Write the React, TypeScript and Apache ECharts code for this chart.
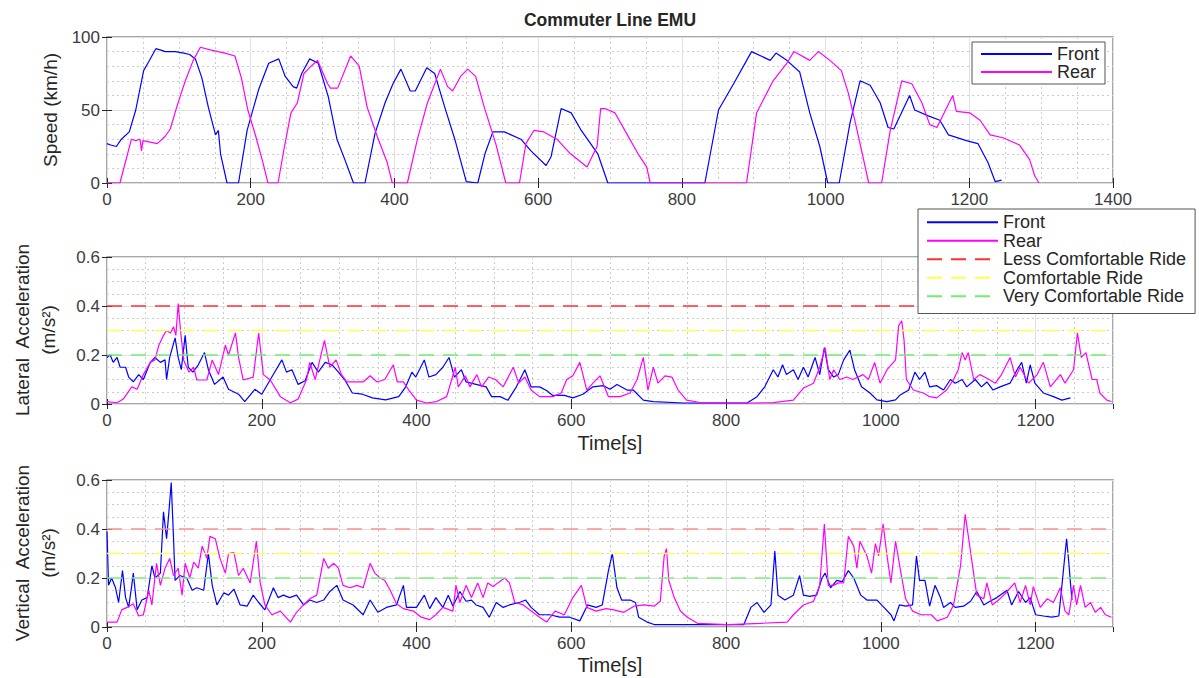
import React, { useEffect, useRef } from 'react';
import * as echarts from 'echarts';

// ---- data: [time (s), value] ----
const speedFront: [number, number][] = [
  [0,27],[5,26],[13,25],[20,30],[31,35],[40,50],[51,77],[58,83],[68,92],[75,91],[81,90],[95,90],[107,89],[115,88],[123,85],[132,72],[141,52],[151,33],[155,36],[158,20],[167,0],[183,0],[195,36],[211,64],[225,82],[239,85],[248,73],[259,66],[264,65],[271,75],[282,85],[294,82],[308,59],[320,30],[331,16],[343,0],[359,0],[373,34],[387,55],[398,68],[409,78],[422,63],[429,63],[445,79],[456,75],[470,52],[484,30],[500,1],[516,0],[526,20],[537,35],[553,35],[576,30],[590,22],[611,12],[618,18],[632,51],[646,48],[660,36],[683,20],[697,0],[832,0],[851,50],[872,68],[897,90],[923,84],[931,89],[946,84],[964,76],[978,48],[992,25],[1003,0],[1019,0],[1034,41],[1048,70],[1062,67],[1076,55],[1087,38],[1095,37],[1117,60],[1124,50],[1143,46],[1159,43],[1171,33],[1196,29],[1212,27],[1226,14],[1236,1],[1245,2]
];
const speedRear: [number, number][] = [
  [0,0],[18,0],[34,30],[40,29],[46,30],[48,22],[50,29],[70,27],[81,32],[88,37],[97,52],[109,70],[120,84],[130,93],[145,91],[164,89],[178,87],[187,72],[196,50],[207,32],[217,14],[224,0],[238,0],[247,25],[256,48],[265,55],[274,75],[284,80],[293,84],[307,68],[311,65],[321,65],[339,87],[351,80],[362,52],[376,32],[390,14],[397,0],[418,0],[432,30],[446,55],[464,78],[474,66],[481,63],[492,73],[502,78],[513,73],[525,52],[541,27],[555,0],[574,0],[583,27],[594,36],[608,35],[626,30],[645,20],[668,11],[682,25],[687,51],[693,51],[707,48],[723,34],[739,20],[751,11],[756,0],[890,0],[904,48],[927,70],[946,82],[956,90],[978,84],[990,90],[1006,84],[1022,77],[1032,61],[1043,38],[1052,18],[1060,0],[1078,0],[1090,36],[1106,70],[1120,68],[1134,55],[1145,40],[1155,38],[1169,52],[1177,60],[1182,49],[1201,48],[1215,43],[1229,33],[1247,31],[1270,26],[1284,16],[1291,5],[1297,0]
];
const latFront: [number, number][] = [
  [0,0.19],[4,0.2],[8,0.17],[13,0.19],[17,0.15],[24,0.15],[28,0.11],[34,0.09],[41,0.12],[47,0.1],[56,0.17],[62,0.19],[69,0.17],[75,0.18],[77,0.1],[81,0.19],[88,0.27],[92,0.19],[96,0.14],[101,0.28],[105,0.15],[111,0.13],[118,0.16],[126,0.21],[131,0.14],[139,0.08],[150,0.11],[157,0.06],[170,0.04],[178,0.01],[191,0.06],[200,0.04],[213,0.11],[226,0.18],[232,0.13],[239,0.14],[247,0.08],[256,0.095],[265,0.17],[273,0.13],[282,0.17],[291,0.16],[299,0.13],[308,0.095],[317,0.045],[330,0.04],[343,0.025],[360,0.017],[377,0.03],[386,0.07],[394,0.13],[399,0.11],[410,0.18],[416,0.11],[425,0.12],[434,0.15],[442,0.19],[449,0.11],[458,0.14],[464,0.09],[477,0.08],[490,0.07],[497,0.03],[508,0.03],[518,0.015],[529,0.07],[540,0.14],[548,0.07],[559,0.07],[568,0.055],[576,0.035],[591,0.035],[602,0.025],[615,0.04],[628,0.07],[641,0.075],[650,0.06],[659,0.08],[672,0.057],[680,0.057],[693,0.016],[706,0.01],[745,0.004],[788,0.004],[827,0.004],[840,0.03],[850,0.07],[861,0.14],[867,0.11],[873,0.16],[878,0.12],[887,0.14],[893,0.1],[900,0.15],[906,0.11],[915,0.19],[921,0.12],[927,0.23],[932,0.14],[939,0.11],[945,0.12],[952,0.18],[960,0.22],[966,0.14],[975,0.07],[986,0.045],[995,0.017],[1008,0.01],[1019,0.017],[1025,0.037],[1036,0.057],[1044,0.13],[1050,0.1],[1057,0.13],[1063,0.07],[1072,0.075],[1081,0.057],[1090,0.1],[1096,0.085],[1105,0.1],[1111,0.07],[1122,0.1],[1130,0.07],[1137,0.09],[1145,0.057],[1154,0.07],[1167,0.085],[1176,0.14],[1182,0.17],[1188,0.085],[1193,0.16],[1199,0.085],[1210,0.045],[1223,0.03],[1234,0.016],[1245,0.025]
];
const latRear: [number, number][] = [
  [0,0.01],[13,0.005],[21,0.02],[32,0.07],[39,0.06],[47,0.12],[56,0.17],[62,0.18],[67,0.24],[73,0.28],[77,0.3],[82,0.29],[86,0.315],[89,0.28],[92,0.41],[95,0.3],[99,0.18],[106,0.13],[112,0.15],[116,0.098],[129,0.098],[136,0.18],[144,0.12],[153,0.24],[157,0.2],[166,0.29],[170,0.19],[176,0.098],[189,0.11],[196,0.29],[202,0.12],[211,0.098],[224,0.03],[237,0.005],[247,0.02],[258,0.1],[262,0.17],[269,0.1],[275,0.18],[281,0.26],[288,0.15],[296,0.18],[303,0.12],[310,0.09],[331,0.09],[340,0.115],[349,0.09],[359,0.1],[370,0.16],[375,0.09],[383,0.09],[390,0.057],[400,0.016],[413,0.004],[426,0.01],[439,0.03],[450,0.15],[454,0.07],[463,0.115],[469,0.07],[478,0.12],[484,0.07],[493,0.11],[502,0.1],[512,0.07],[525,0.15],[532,0.085],[540,0.11],[548,0.057],[559,0.03],[576,0.03],[587,0.045],[594,0.1],[602,0.115],[611,0.17],[620,0.057],[628,0.085],[637,0.115],[648,0.03],[663,0.03],[676,0.045],[685,0.1],[693,0.19],[699,0.057],[706,0.15],[712,0.085],[721,0.115],[730,0.11],[738,0.057],[749,0.016],[766,0.006],[809,0.004],[831,0.004],[861,0.006],[887,0.016],[900,0.065],[913,0.085],[921,0.15],[928,0.23],[934,0.1],[939,0.14],[947,0.1],[956,0.11],[964,0.1],[977,0.12],[984,0.1],[992,0.17],[999,0.085],[1008,0.14],[1019,0.18],[1023,0.32],[1027,0.34],[1030,0.26],[1033,0.1],[1042,0.057],[1055,0.045],[1063,0.03],[1072,0.025],[1085,0.057],[1094,0.1],[1100,0.14],[1105,0.21],[1109,0.18],[1113,0.21],[1120,0.1],[1128,0.12],[1137,0.105],[1148,0.085],[1156,0.12],[1167,0.19],[1174,0.11],[1180,0.15],[1191,0.085],[1202,0.12],[1210,0.17],[1219,0.07],[1232,0.12],[1238,0.085],[1249,0.14],[1254,0.29],[1259,0.19],[1265,0.21],[1273,0.1],[1279,0.1],[1283,0.045],[1292,0.016],[1298,0.01]
];
const vertFront: [number, number][] = [
  [0,0.39],[2,0.17],[6,0.2],[11,0.16],[15,0.1],[20,0.23],[24,0.12],[28,0.08],[32,0.17],[34,0.22],[39,0.07],[45,0.11],[52,0.12],[58,0.25],[62,0.2],[69,0.22],[73,0.47],[77,0.36],[80,0.47],[83,0.59],[86,0.36],[88,0.19],[94,0.21],[103,0.2],[110,0.15],[116,0.16],[125,0.15],[131,0.3],[136,0.17],[142,0.09],[151,0.14],[157,0.13],[164,0.155],[172,0.09],[181,0.085],[189,0.13],[196,0.1],[204,0.07],[215,0.16],[221,0.12],[228,0.13],[236,0.12],[245,0.13],[254,0.09],[262,0.11],[271,0.1],[280,0.11],[288,0.145],[297,0.17],[305,0.11],[318,0.09],[331,0.05],[340,0.11],[350,0.06],[361,0.08],[374,0.09],[383,0.17],[387,0.08],[400,0.08],[410,0.13],[417,0.075],[425,0.12],[434,0.08],[441,0.13],[447,0.085],[456,0.145],[464,0.105],[471,0.11],[477,0.09],[486,0.08],[494,0.04],[503,0.1],[512,0.08],[520,0.09],[533,0.1],[541,0.11],[548,0.08],[559,0.05],[572,0.05],[585,0.04],[598,0.04],[611,0.025],[621,0.09],[632,0.08],[640,0.09],[648,0.23],[653,0.3],[659,0.16],[665,0.11],[676,0.11],[683,0.1],[687,0.04],[698,0.02],[707,0.01],[767,0.01],[823,0.01],[832,0.08],[840,0.1],[849,0.06],[858,0.09],[863,0.31],[867,0.13],[876,0.11],[887,0.13],[895,0.21],[900,0.13],[908,0.125],[917,0.13],[924,0.2],[928,0.22],[935,0.16],[943,0.19],[950,0.185],[958,0.23],[965,0.2],[974,0.13],[982,0.11],[995,0.11],[1004,0.08],[1013,0.05],[1017,0.025],[1024,0.09],[1032,0.085],[1041,0.09],[1046,0.29],[1050,0.19],[1057,0.19],[1063,0.085],[1070,0.17],[1077,0.12],[1081,0.08],[1090,0.1],[1096,0.08],[1107,0.085],[1116,0.105],[1124,0.145],[1133,0.09],[1141,0.105],[1150,0.12],[1163,0.15],[1169,0.09],[1178,0.145],[1187,0.1],[1193,0.12],[1200,0.05],[1210,0.045],[1221,0.04],[1230,0.045],[1234,0.17],[1240,0.36],[1243,0.26],[1245,0.18],[1247,0.11]
];
const vertRear: [number, number][] = [
  [0,0.02],[13,0.02],[19,0.07],[26,0.08],[34,0.095],[41,0.045],[47,0.05],[54,0.15],[58,0.09],[64,0.26],[69,0.17],[75,0.24],[81,0.28],[86,0.21],[92,0.24],[97,0.13],[101,0.26],[107,0.2],[112,0.265],[118,0.24],[123,0.33],[129,0.28],[133,0.37],[140,0.36],[146,0.28],[153,0.22],[157,0.3],[164,0.305],[170,0.21],[176,0.24],[185,0.18],[193,0.35],[198,0.18],[204,0.09],[213,0.05],[224,0.065],[237,0.02],[245,0.06],[254,0.09],[262,0.115],[271,0.13],[280,0.28],[286,0.24],[293,0.26],[299,0.24],[305,0.17],[314,0.16],[323,0.17],[331,0.16],[340,0.26],[346,0.22],[353,0.2],[359,0.19],[366,0.15],[374,0.095],[383,0.075],[396,0.065],[406,0.04],[417,0.03],[425,0.05],[434,0.08],[447,0.065],[451,0.17],[456,0.1],[464,0.17],[471,0.12],[479,0.18],[486,0.12],[492,0.18],[499,0.165],[505,0.18],[514,0.2],[520,0.18],[527,0.1],[538,0.09],[548,0.065],[559,0.04],[568,0.02],[579,0.065],[591,0.05],[602,0.12],[613,0.17],[620,0.08],[632,0.065],[645,0.075],[655,0.07],[668,0.06],[681,0.085],[694,0.09],[707,0.085],[715,0.105],[720,0.29],[723,0.32],[726,0.19],[733,0.12],[741,0.065],[750,0.04],[763,0.015],[802,0.01],[845,0.015],[879,0.02],[887,0.05],[900,0.09],[913,0.105],[921,0.17],[927,0.42],[932,0.17],[939,0.17],[945,0.18],[952,0.18],[958,0.37],[965,0.33],[969,0.24],[973,0.35],[982,0.29],[988,0.22],[993,0.34],[997,0.29],[1003,0.42],[1008,0.29],[1013,0.18],[1019,0.35],[1026,0.22],[1032,0.115],[1041,0.065],[1052,0.05],[1065,0.05],[1073,0.025],[1086,0.04],[1094,0.09],[1103,0.25],[1109,0.46],[1114,0.35],[1118,0.26],[1124,0.13],[1133,0.115],[1137,0.18],[1144,0.09],[1154,0.115],[1163,0.145],[1173,0.18],[1180,0.1],[1187,0.17],[1193,0.09],[1197,0.165],[1206,0.08],[1215,0.115],[1223,0.1],[1232,0.16],[1238,0.065],[1243,0.05],[1249,0.17],[1253,0.09],[1258,0.17],[1264,0.08],[1271,0.1],[1277,0.06],[1284,0.08],[1290,0.05],[1298,0.04]
];
const thresholdNames = ['Less Comfortable Ride', 'Comfortable Ride', 'Very Comfortable Ride'];
const thresholdValues = [0.4, 0.3, 0.2];
const thresholdSpan = [0, 1300];

// ---- styles ----
const FONT = 'Liberation Sans, Arial, Helvetica, sans-serif';
const TXT = '#262626';
const TICK_TXT = '#3c3c3c';
const FRONT_C = '#0000ff';
const REAR_C = '#ff00ff';
const latThrColors = ['#ff3030', '#ffff50', '#70f070'];
const vertThrColors = ['#ff9090', '#ffff50', '#80f080'];

const grids = [
  { left: 107, top: 37, width: 1006, height: 146 },
  { left: 107, top: 257, width: 1006, height: 147 },
  { left: 107, top: 480, width: 1006, height: 147 },
];

const plainNum = (v: number) => String(v);

function xAxes(g: number, max: number) {
  const tick = { show: true, inside: true, length: 5, lineStyle: { color: TXT, width: 1 } };
  return [
    {
      gridIndex: g, type: 'value', min: 0, max, interval: 200, position: 'bottom', z: 2,
      axisLine: { show: false }, axisTick: tick,
      axisLabel: { show: true, fontSize: 17, color: TICK_TXT, margin: 8, fontFamily: FONT, showMaxLabel: max === 1400, formatter: plainNum },
      splitLine: { show: true, lineStyle: { color: '#e0e0e0', width: 1 } },
    },
    {
      gridIndex: g, type: 'value', min: 0, max, interval: 200, position: 'top', z: 2,
      axisLine: { show: false }, axisTick: tick, axisLabel: { show: false }, splitLine: { show: false },
    },
    {
      gridIndex: g, type: 'value', min: 0, max, interval: 50, position: 'bottom', z: 1,
      axisLine: { show: false }, axisTick: { show: false }, axisLabel: { show: false },
      splitLine: { show: true, lineStyle: { color: '#cccccc', width: 1, type: [2, 3] } },
    },
  ];
}

function yAxes(g: number, max: number, interval: number, minorSplit: number) {
  const tick = { show: true, inside: true, length: 5, lineStyle: { color: TXT, width: 1 } };
  return [
    {
      gridIndex: g, type: 'value', min: 0, max, interval, position: 'left', z: 2,
      axisLine: { show: false }, axisTick: tick,
      axisLabel: { show: true, fontSize: 17, color: TICK_TXT, margin: 7, fontFamily: FONT, formatter: plainNum },
      splitLine: { show: true, lineStyle: { color: '#e0e0e0', width: 1 } },
      minorTick: { show: false, splitNumber: minorSplit },
      minorSplitLine: { show: true, lineStyle: { color: '#cccccc', width: 1, type: [2, 3] } },
    },
    {
      gridIndex: g, type: 'value', min: 0, max, interval, position: 'right', z: 2,
      axisLine: { show: false }, axisTick: tick, axisLabel: { show: false }, splitLine: { show: false },
    },
  ];
}

function dataLine(name: string, g: number, data: [number, number][], color: string) {
  return {
    name, type: 'line', xAxisIndex: g * 3, yAxisIndex: g * 2, data,
    symbol: 'none', showSymbol: false, lineStyle: { color, width: 1.2 }, itemStyle: { color }, z: 3,
  };
}

function thresholdLines(g: number, colors: string[]) {
  return thresholdNames.map((name, i) => ({
    name, type: 'line', xAxisIndex: g * 3, yAxisIndex: g * 2,
    data: thresholdSpan.map((t) => [t, thresholdValues[i]]),
    symbol: 'none', showSymbol: false,
    lineStyle: { color: colors[i], width: 1.5, type: [15, 9] }, itemStyle: { color: colors[i] }, z: 4,
  }));
}

function rotText(x: number, y: number, text: string, size: number) {
  return {
    type: 'text', x, y, rotation: Math.PI / 2,
    style: { text, fontSize: size, fontFamily: FONT, fill: TXT, align: 'center', verticalAlign: 'middle' },
  };
}

function plainText(x: number, y: number, text: string, size: number, weight = 'normal') {
  return {
    type: 'text', x, y,
    style: { text, fontSize: size, fontWeight: weight, fontFamily: FONT, fill: TXT, align: 'center', verticalAlign: 'middle' },
  };
}

export default function App() {
  const ref = useRef<HTMLDivElement>(null);
  useEffect(() => {
    if (!ref.current) return;
    const chart = echarts.init(ref.current, undefined, { renderer: 'svg' });
    const legendCommon = {
      orient: 'vertical', itemWidth: 71, itemHeight: 14, itemGap: 0, z: 20,
      backgroundColor: '#ffffff', borderColor: '#555555', borderWidth: 1, borderRadius: 0,
      textStyle: { fontSize: 18, color: TXT, fontFamily: FONT, lineHeight: 18 },
      itemStyle: { opacity: 0 },
      selectedMode: false,
    };
    chart.setOption({
      animation: false,
      backgroundColor: '#ffffff',
      grid: grids.map((g) => ({ ...g, show: true, borderColor: '#8a8a8a', borderWidth: 1.5, backgroundColor: '#ffffff', containLabel: false })),
      xAxis: [...xAxes(0, 1400), ...xAxes(1, 1300), ...xAxes(2, 1300)],
      yAxis: [...yAxes(0, 100, 50, 5), ...yAxes(1, 0.6, 0.2, 4), ...yAxes(2, 0.6, 0.2, 4)],
      legend: [
        { ...legendCommon, data: ['Front', 'Rear'], left: 972, top: 42, padding: [3, 6, 3, 8] },
        {
          ...legendCommon, data: ['Front', 'Rear', ...thresholdNames], left: 918, top: 209, padding: [4, 9, 8, 8],
          textStyle: { ...legendCommon.textStyle, lineHeight: 18.5 },
        },
      ],
      graphic: [
        plainText(610, 20, 'Commuter Line EMU', 17.5, 'bold'),
        rotText(50, 110, 'Speed (km/h)', 19),
        rotText(22, 330, 'Lateral  Acceleration', 19),
        rotText(48, 330, '(m/s²)', 19),
        rotText(22, 553, 'Vertical  Acceleration', 19),
        rotText(48, 553, '(m/s²)', 19),
        plainText(610, 443, 'Time[s]', 20),
        plainText(610, 665, 'Time[s]', 20),
      ],
      series: [
        dataLine('Front', 0, speedFront, FRONT_C),
        dataLine('Rear', 0, speedRear, REAR_C),
        dataLine('Front', 1, latFront, FRONT_C),
        dataLine('Rear', 1, latRear, REAR_C),
        ...thresholdLines(1, latThrColors),
        dataLine('Front', 2, vertFront, FRONT_C),
        dataLine('Rear', 2, vertRear, REAR_C),
        ...thresholdLines(2, vertThrColors),
      ],
    });
    return () => chart.dispose();
  }, []);
  return <div ref={ref} style={{ position: 'fixed', left: 0, top: 0, width: 1199, height: 678, background: '#fff' }} />;
}
